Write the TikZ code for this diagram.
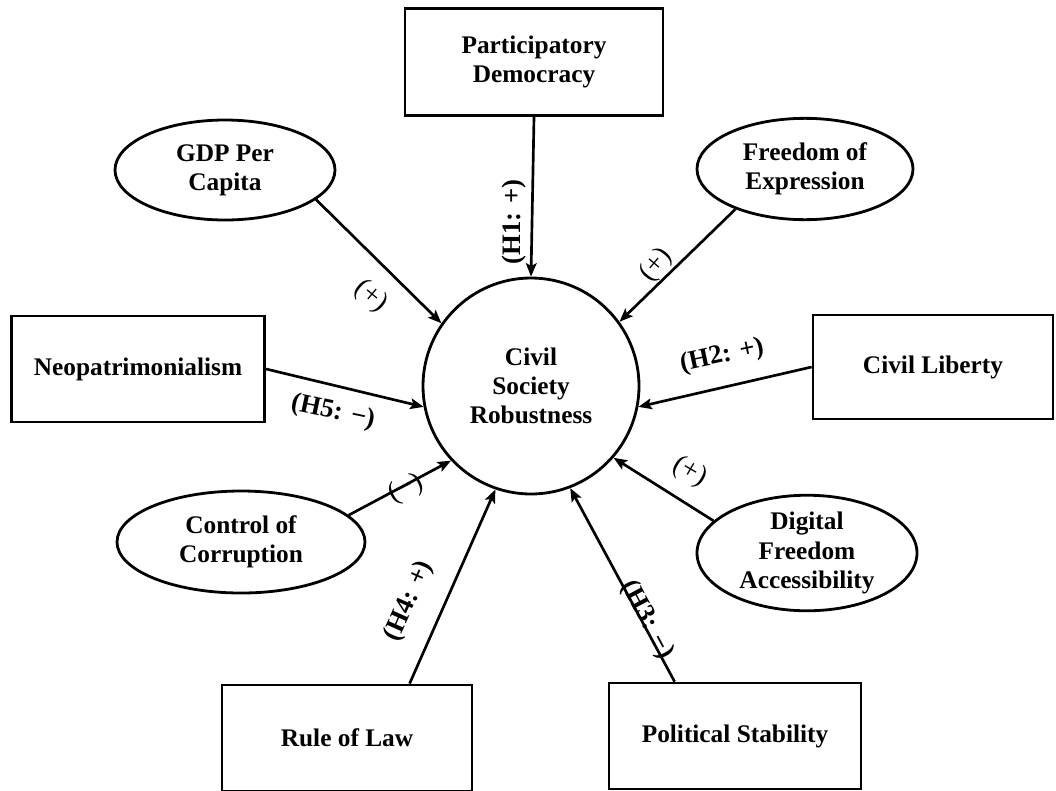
\documentclass[tikz,border=0pt]{standalone}
\usepackage{fontspec}
\setmainfont{Liberation Serif}
\usetikzlibrary{arrows.meta,shapes.geometric}
\begin{document}
\begin{tikzpicture}[x=0.75pt,y=-0.75pt,
  every node/.style={font=\fontsize{19}{22}\selectfont\bfseries, align=center, inner sep=0pt},
  boxnode/.style={draw, line width=2.1pt, rectangle},
  ellnode/.style={draw, line width=2.1pt, ellipse},
  circnode/.style={draw, line width=2.1pt, circle, minimum size=162pt},
  arr/.style={line width=2pt, -{Stealth[length=10pt,width=8pt,inset=2pt]}},
  lbl/.style={font=\fontsize{20}{22}\selectfont\bfseries},
  sgn/.style={font=\fontsize{21}{22}\selectfont}
]
\useasboundingbox (0,0) rectangle (1056,790);
\node[circnode] (civ) at (531,386) {Civil\\Society\\Robustness};
\node[boxnode, minimum width=193.5pt, minimum height=80pt] (pd) at (534,62) {Participatory\\Democracy};
\node[ellnode, minimum width=165pt, minimum height=75pt] (gdp) at (225,170) {GDP Per\\Capita};
\node[ellnode, minimum width=162pt, minimum height=76pt] (foe) at (805,169) {Freedom of\\Expression};
\node[boxnode, minimum width=190pt, minimum height=79.5pt] (neo) at (138,369) {Neopatrimonialism};
\node[boxnode, minimum width=180pt, minimum height=78pt] (cl) at (933,367) {Civil Liberty};
\node[ellnode, minimum width=186pt, minimum height=76.5pt] (coc) at (241,542) {Control of\\Corruption};
\node[ellnode, minimum width=165pt, minimum height=79.5pt] (dfa) at (807,553) {Digital\\Freedom\\Accessibility};
\node[boxnode, minimum width=187.5pt, minimum height=79.5pt] (rol) at (347,738) {Rule of Law};
\node[boxnode, minimum width=189pt, minimum height=79.5pt] (ps) at (735,736) {Political Stability};

\draw[arr] (pd.south) -- (civ.90);
\draw[arr] (gdp.-18) -- (civ.145);
\draw[arr] (foe.210) -- (civ.36);
\draw[arr] (neo.east) -- (civ.191);
\draw[arr] (cl.west) -- (civ.349);
\draw[arr] (coc.14) -- (civ.223);
\draw[arr] (dfa.161) -- (civ.319);
\draw[arr] (rol.41.5) -- (civ.251);
\draw[arr] (ps.138.6) -- (civ.291.5);

\node[lbl, rotate=90] (l1) at (514,222) {(H1: +)};
\node[sgn, rotate=-40] (l2) at (371,296) {(+)};
\node[sgn, rotate=50] (l3) at (656,265) {(+)};
\node[lbl, rotate=-12] (l4) at (333,412) {(H5: −)};
\node[lbl, rotate=12] (l5) at (722,356) {(H2: +)};
\node[sgn, rotate=27] (l6) at (406,489) {(−)};
\node[sgn, rotate=-30] (l7) at (690,472) {(+)};
\node[lbl, rotate=66] (l8) at (409,601) {(H4: +)};
\node[lbl, rotate=-62] (l9) at (647,620) {(H3: −)};
\end{tikzpicture}
\end{document}
